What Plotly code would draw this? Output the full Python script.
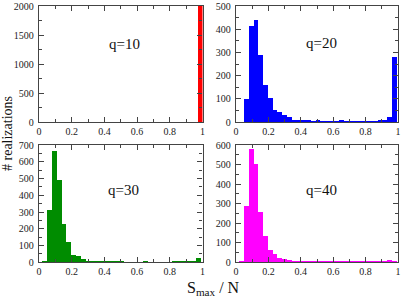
import plotly.graph_objects as go

# bin centres (width 1/34), shared by q=20,30,40
bin_width = 1 / 34
bin_centers = [0.05 + (k + 0.5) / 34 for k in range(-1, 32)]

q10_x = [0.9855]
q10_counts = [2000]

q20_counts = [0, 100, 415, 440, 288, 160, 103, 52, 45, 30, 20, 10, 8, 5, 5, 3, 5,
              2, 2, 4, 3, 6, 3, 2, 2, 3, 3, 4, 4, 5, 6, 22, 282]
q30_counts = [5, 312, 664, 491, 230, 119, 43, 37, 18, 8, 8, 5, 3, 2, 2, 2, 2,
              1, 1, 1, 1, 2, 1, 1, 1, 1, 1, 2, 2, 2, 3, 8, 24]
q40_counts = [3, 288, 578, 503, 259, 134, 63, 42, 22, 15, 10, 8, 6, 5, 5, 3, 4,
              3, 3, 5, 4, 5, 3, 3, 4, 5, 3, 3, 3, 4, 6, 10, 9]

x_tickvals = [0, 0.2, 0.4, 0.6, 0.8, 1]
x_ticktext = ["0", "0.2", "0.4", "0.6", "0.8", "1"]

W, H = 402, 303
def px(xl, xr):
    return [xl / W, xr / W]
def py(ytop, ybot):
    return [(H - ybot) / H, (H - ytop) / H]

fig = go.Figure()
fig.add_trace(go.Bar(x=q10_x, y=q10_counts, width=0.029, marker=dict(color="#ff0000", line=dict(width=0)),
                     xaxis="x", yaxis="y"))
fig.add_trace(go.Bar(x=bin_centers, y=q20_counts, width=bin_width, marker=dict(color="#0000ff", line=dict(width=0)),
                     xaxis="x2", yaxis="y2"))
fig.add_trace(go.Bar(x=bin_centers, y=q30_counts, width=bin_width, marker=dict(color="#008c00", line=dict(width=0)),
                     xaxis="x3", yaxis="y3"))
fig.add_trace(go.Bar(x=bin_centers, y=q40_counts, width=bin_width, marker=dict(color="#ff00ff", line=dict(width=0)),
                     xaxis="x4", yaxis="y4"))

font_tick = dict(family="Liberation Serif, DejaVu Serif, serif", size=10, color="#222")
line_col = "#444"

def xax(dom, anchor):
    return dict(domain=dom, anchor=anchor, range=[0, 1], tickvals=x_tickvals, ticktext=x_ticktext,
                ticks="inside", ticklen=5, tickcolor=line_col, showline=True, linecolor=line_col,
                linewidth=1.3, mirror="allticks", showgrid=False, zeroline=False, tickfont=font_tick,
                minor=dict(tickvals=[0.1, 0.3, 0.5, 0.7, 0.9], ticks="inside", ticklen=3, tickcolor=line_col),
                automargin=False, fixedrange=True)

def yax(dom, anchor, ymax, dtick):
    return dict(domain=dom, anchor=anchor, range=[0, ymax], dtick=dtick, tick0=0,
                ticks="inside", ticklen=5, tickcolor=line_col, showline=True, linecolor=line_col,
                linewidth=1.3, mirror="allticks", showgrid=False, zeroline=False, tickfont=font_tick,
                minor=dict(dtick=dtick / 2, ticks="inside", ticklen=3, tickcolor=line_col),
                ticklabelstandoff=2, automargin=False, fixedrange=True)

xl1, xr1 = 39, 202.5
xl2, xr2 = 236, 398
yt1, yb1 = 6, 122
yt2, yb2 = 145, 262.3

layout = dict(
    width=W, height=H, margin=dict(l=0, r=0, t=0, b=0),
    paper_bgcolor="white", plot_bgcolor="white", showlegend=False, bargap=0,
    xaxis=xax(px(xl1, xr1), "y"), yaxis=yax(py(yt1, yb1), "x", 2000, 500),
    xaxis2=xax(px(xl2, xr2), "y2"), yaxis2=yax(py(yt1, yb1), "x2", 500, 100),
    xaxis3=xax(px(xl1, xr1), "y3"), yaxis3=yax(py(yt2, yb2), "x3", 700, 100),
    xaxis4=xax(px(xl2, xr2), "y4"), yaxis4=yax(py(yt2, yb2), "x4", 600, 100),
)
fig.update_layout(**layout)

lab_font = dict(family="Liberation Serif, DejaVu Serif, serif", size=15, color="#111")
for ax, label, xd, yd in [("", "q=10", 0.52, 0.67), ("2", "q=20", 0.53, 0.68),
                          ("3", "q=30", 0.515, 0.62), ("4", "q=40", 0.53, 0.62)]:
    fig.add_annotation(text=label, xref=f"x{ax} domain", yref=f"y{ax} domain", x=xd, y=yd,
                       showarrow=False, font=lab_font, xanchor="center", yanchor="middle")

fig.add_annotation(text="# realizations", xref="paper", yref="paper", x=7 / W, y=(H - 134) / H,
                   textangle=-90, showarrow=False,
                   font=dict(family="Liberation Serif, DejaVu Serif, serif", size=14, color="#111"),
                   xanchor="center", yanchor="middle")
fig.add_annotation(text="S<sub>max</sub> / N", xref="paper", yref="paper", x=213 / W, y=(H - 288) / H,
                   showarrow=False, font=dict(family="Liberation Serif, DejaVu Serif, serif", size=16, color="#111"),
                   xanchor="center", yanchor="middle")

fig.write_html("out.html", config={"displayModeBar": False},
               post_script="document.body.style.margin='0px';document.body.style.overflow='hidden';")
